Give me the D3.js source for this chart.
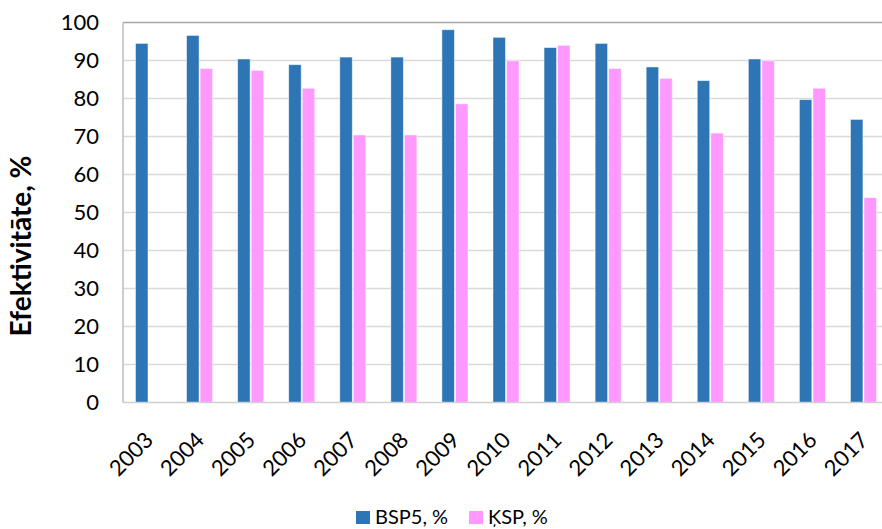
<!DOCTYPE html>
<html>
<head>
<meta charset="utf-8">
<script src="https://cdn.jsdelivr.net/npm/d3@7"></script>
<style>
  html, body { margin: 0; padding: 0; background: #fff; }
  svg { display: block; font-family: Lato, "Open Sans", sans-serif; }
</style>
</head>
<body>
<svg id="chart" width="882" height="529"></svg>
<script>
// Years on the x axis
const years = ["2003","2004","2005","2006","2007","2008","2009","2010","2011","2012","2013","2014","2015","2016","2017"];
// Series names (legend labels)
const seriesNames = ["BSP5, %", "ĶSP, %"];
const seriesColors = ["#2E75B6", "#FF99FF"];
// Effectiveness values, % (null = no value)
const bsp5 = [94.5, 96.6, 90.4, 88.9, 90.9, 90.9, 98.1, 96.1, 93.4, 94.5, 88.3, 84.7, 90.4, 79.7, 74.5];
const ksp  = [null, 87.9, 87.4, 82.7, 70.4, 70.4, 78.6, 89.9, 94.0, 87.9, 85.3, 70.9, 89.9, 82.7, 53.9];
// Y-axis ticks
const yTicks = [0, 10, 20, 30, 40, 50, 60, 70, 80, 90, 100];

const svg = d3.select("#chart");
const plot = { left: 123, right: 889, top: 22.5, bottom: 402.5 };

const x0 = d3.scaleBand().domain(years).range([plot.left, plot.right])
  .paddingInner(0.49).paddingOuter(0.245);
const x1 = d3.scaleBand().domain(seriesNames).range([0, x0.bandwidth()]).paddingInner(0.08);
const y = d3.scaleLinear().domain([0, 100]).range([plot.bottom, plot.top]);

// Horizontal gridlines
svg.append("g").selectAll("line").data(yTicks.filter(t => t > 0)).join("line")
  .attr("x1", plot.left).attr("x2", plot.right)
  .attr("y1", d => y(d)).attr("y2", d => y(d))
  .attr("stroke", d => d === 100 ? "#a6a6a6" : "#d9d9d9")
  .attr("stroke-width", d => d === 100 ? 1.6 : 1.3);

// Bars
const rows = years.map((yr, i) => ({ year: yr, values: [bsp5[i], ksp[i]] }));
const groups = svg.append("g").selectAll("g").data(rows).join("g")
  .attr("transform", d => `translate(${x0(d.year)},0)`);
groups.selectAll("rect")
  .data(d => d.values.map((v, k) => ({ key: seriesNames[k], v, k })).filter(e => e.v != null))
  .join("rect")
  .attr("x", d => x1(d.key))
  .attr("width", x1.bandwidth())
  .attr("y", d => y(d.v))
  .attr("height", d => y(0) - y(d.v))
  .attr("fill", d => seriesColors[d.k])
  .attr("stroke", "#ffffff")
  .attr("stroke-opacity", 0.6)
  .attr("stroke-width", 0.8);

// Axis lines
svg.append("line").attr("x1", plot.left).attr("x2", plot.right)
  .attr("y1", plot.bottom).attr("y2", plot.bottom)
  .attr("stroke", "#d0d0d0").attr("stroke-width", 1.5);
svg.append("line").attr("x1", plot.left).attr("x2", plot.left)
  .attr("y1", plot.top).attr("y2", plot.bottom)
  .attr("stroke", "#bcbcbc").attr("stroke-width", 1.5);

// Y axis tick labels
const yAxis = d3.axisLeft(y).tickValues(yTicks).tickSize(0).tickPadding(24);
const gy = svg.append("g").attr("transform", `translate(${plot.left},0)`).call(yAxis);
gy.select(".domain").remove();
gy.selectAll("text").attr("font-size", 22).attr("fill", "#000")
  .attr("font-family", "Lato, 'Open Sans', sans-serif");

// X axis labels, rotated
const xAxis = d3.axisBottom(x0).tickSize(0).tickPadding(0);
const gx = svg.append("g").attr("transform", `translate(0,${plot.bottom})`).call(xAxis);
gx.select(".domain").remove();
gx.selectAll("text")
  .attr("font-size", 22).attr("fill", "#000")
  .attr("font-family", "Lato, 'Open Sans', sans-serif")
  .attr("text-anchor", "end")
  .attr("dy", 0)
  .attr("transform", "translate(6,39) rotate(-45)");

// Y axis title
svg.append("text")
  .attr("transform", "translate(31,246) rotate(-90)")
  .attr("text-anchor", "middle")
  .attr("font-size", 28).attr("font-weight", "bold").attr("fill", "#000")
  .text("Efektivitāte, %");

// Legend
const legend = svg.append("g").attr("transform", "translate(356,511)");
const legX = [0, 113];
seriesNames.forEach((name, k) => {
  const g = legend.append("g").attr("transform", `translate(${legX[k]},0)`);
  g.append("rect").attr("width", 14).attr("height", 13).attr("fill", seriesColors[k]);
  g.append("text").attr("x", 19).attr("y", 13).attr("font-size", 20).attr("fill", "#000").text(name);
});
</script>
</body>
</html>
